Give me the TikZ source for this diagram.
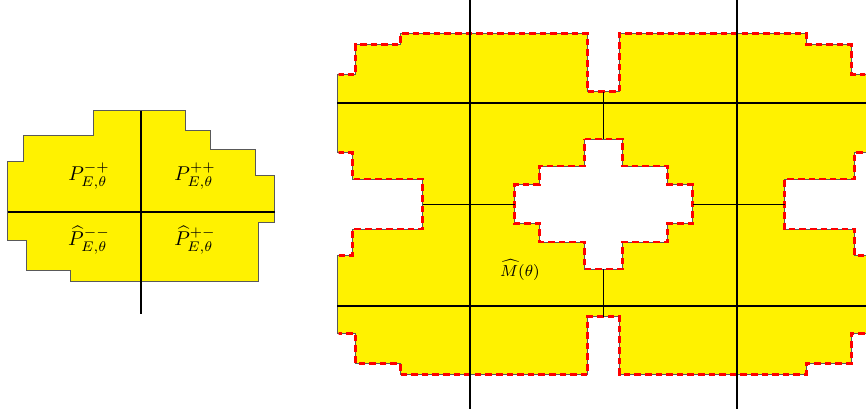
\documentclass[tikz,border=0pt]{standalone}
\usepackage{amsmath}
\begin{document}
\begin{tikzpicture}[
  x=0.5pt, y=-0.5pt,
  region/.style={fill=yellow,draw=gray!70!black,line width=0.5pt},
  bdry/.style={draw=red,line width=1.3pt,dash pattern=on 3.3pt off 2pt},
  axis/.style={draw=black,line width=1pt},
  bridge/.style={draw=black,line width=0.5pt},
  lab/.style={inner sep=0pt}]
\clip (0,0) rectangle (866,409);
% left set, split in four quarters
\filldraw[region] (93,110.5) -- (185,110.5) -- (185,130) -- (210.5,130) -- (210.5,149)
  -- (255.5,149) -- (255.5,175.5) -- (274.5,175.5) -- (274.5,222.5) -- (258.5,222.5)
  -- (258.5,281.5) -- (70.5,281.5) -- (70.5,270.5) -- (26,270.5) -- (26,240)
  -- (7.5,240) -- (7.5,161.5) -- (23.5,161.5) -- (23.5,135) -- (93,135) -- cycle;
\draw[axis] (141,110.5) -- (141,314);
\draw[axis] (7.5,211.5) -- (274.5,211.5);
\node[lab] (pmp) at (89,176) {$P^{-+}_{E,\theta}$};
\node[lab] (ppp) at (195,176) {$P^{++}_{E,\theta}$};
\node[lab] (pmm) at (89,240) {$\widehat{P}^{--}_{E,\theta}$};
\node[lab] (ppm) at (195,240) {$\widehat{P}^{+-}_{E,\theta}$};
% right set with a hole
\filldraw[region,even odd rule,save path=\outerb]
  (337,74.5) -- (355.5,74.5) -- (355.5,44.5) -- (400.5,44.5) -- (400.5,33.5)
  -- (587.5,33.5) -- (587.5,91.5) -- (619.5,91.5) -- (619.5,33.5) -- (806.5,33.5)
  -- (806.5,44.5) -- (851.5,44.5) -- (851.5,74.5) -- (870,74.5) -- (870,152.5)
  -- (854.5,152.5) -- (854.5,179) -- (784.5,179) -- (784.5,229) -- (854.5,229)
  -- (854.5,255.5) -- (870,255.5) -- (870,333.5) -- (851.5,333.5) -- (851.5,363.5)
  -- (806.5,363.5) -- (806.5,374.5) -- (619.5,374.5) -- (619.5,316.5) -- (587.5,316.5)
  -- (587.5,374.5) -- (400.5,374.5) -- (400.5,363.5) -- (355.5,363.5) -- (355.5,333.5)
  -- (337,333.5) -- (337,255.5) -- (352.5,255.5) -- (352.5,229) -- (422.5,229)
  -- (422.5,179) -- (352.5,179) -- (352.5,152.5) -- (337,152.5) -- cycle
  (584.5,139) -- (622.5,139) -- (622.5,166) -- (667.5,166) -- (667.5,184.5)
  -- (692.5,184.5) -- (692.5,223.5) -- (667.5,223.5) -- (667.5,242) -- (622.5,242)
  -- (622.5,269) -- (584.5,269) -- (584.5,242) -- (539.5,242) -- (539.5,223.5)
  -- (514.5,223.5) -- (514.5,184.5) -- (539.5,184.5) -- (539.5,166) -- (584.5,166)
  -- cycle;
\begin{scope}
  \clip (338.5,0) rectangle (865,409);
  \path[bdry,use path=\outerb];
\end{scope}
\draw[bridge] (603.5,91.5) -- (603.5,139);
\draw[bridge] (603.5,269) -- (603.5,316.5);
\draw[bridge] (422.5,204) -- (514.5,204);
\draw[bridge] (692.5,204) -- (784.5,204);
\draw[axis] (470,0) -- (470,409);
\draw[axis] (737,0) -- (737,409);
\draw[axis] (337,102.5) -- (866,102.5);
\draw[axis] (337,305.5) -- (866,305.5);
\node[lab,font=\footnotesize] (mth) at (520,270) {$\widehat{M}(\theta)$};
\end{tikzpicture}
\end{document}
